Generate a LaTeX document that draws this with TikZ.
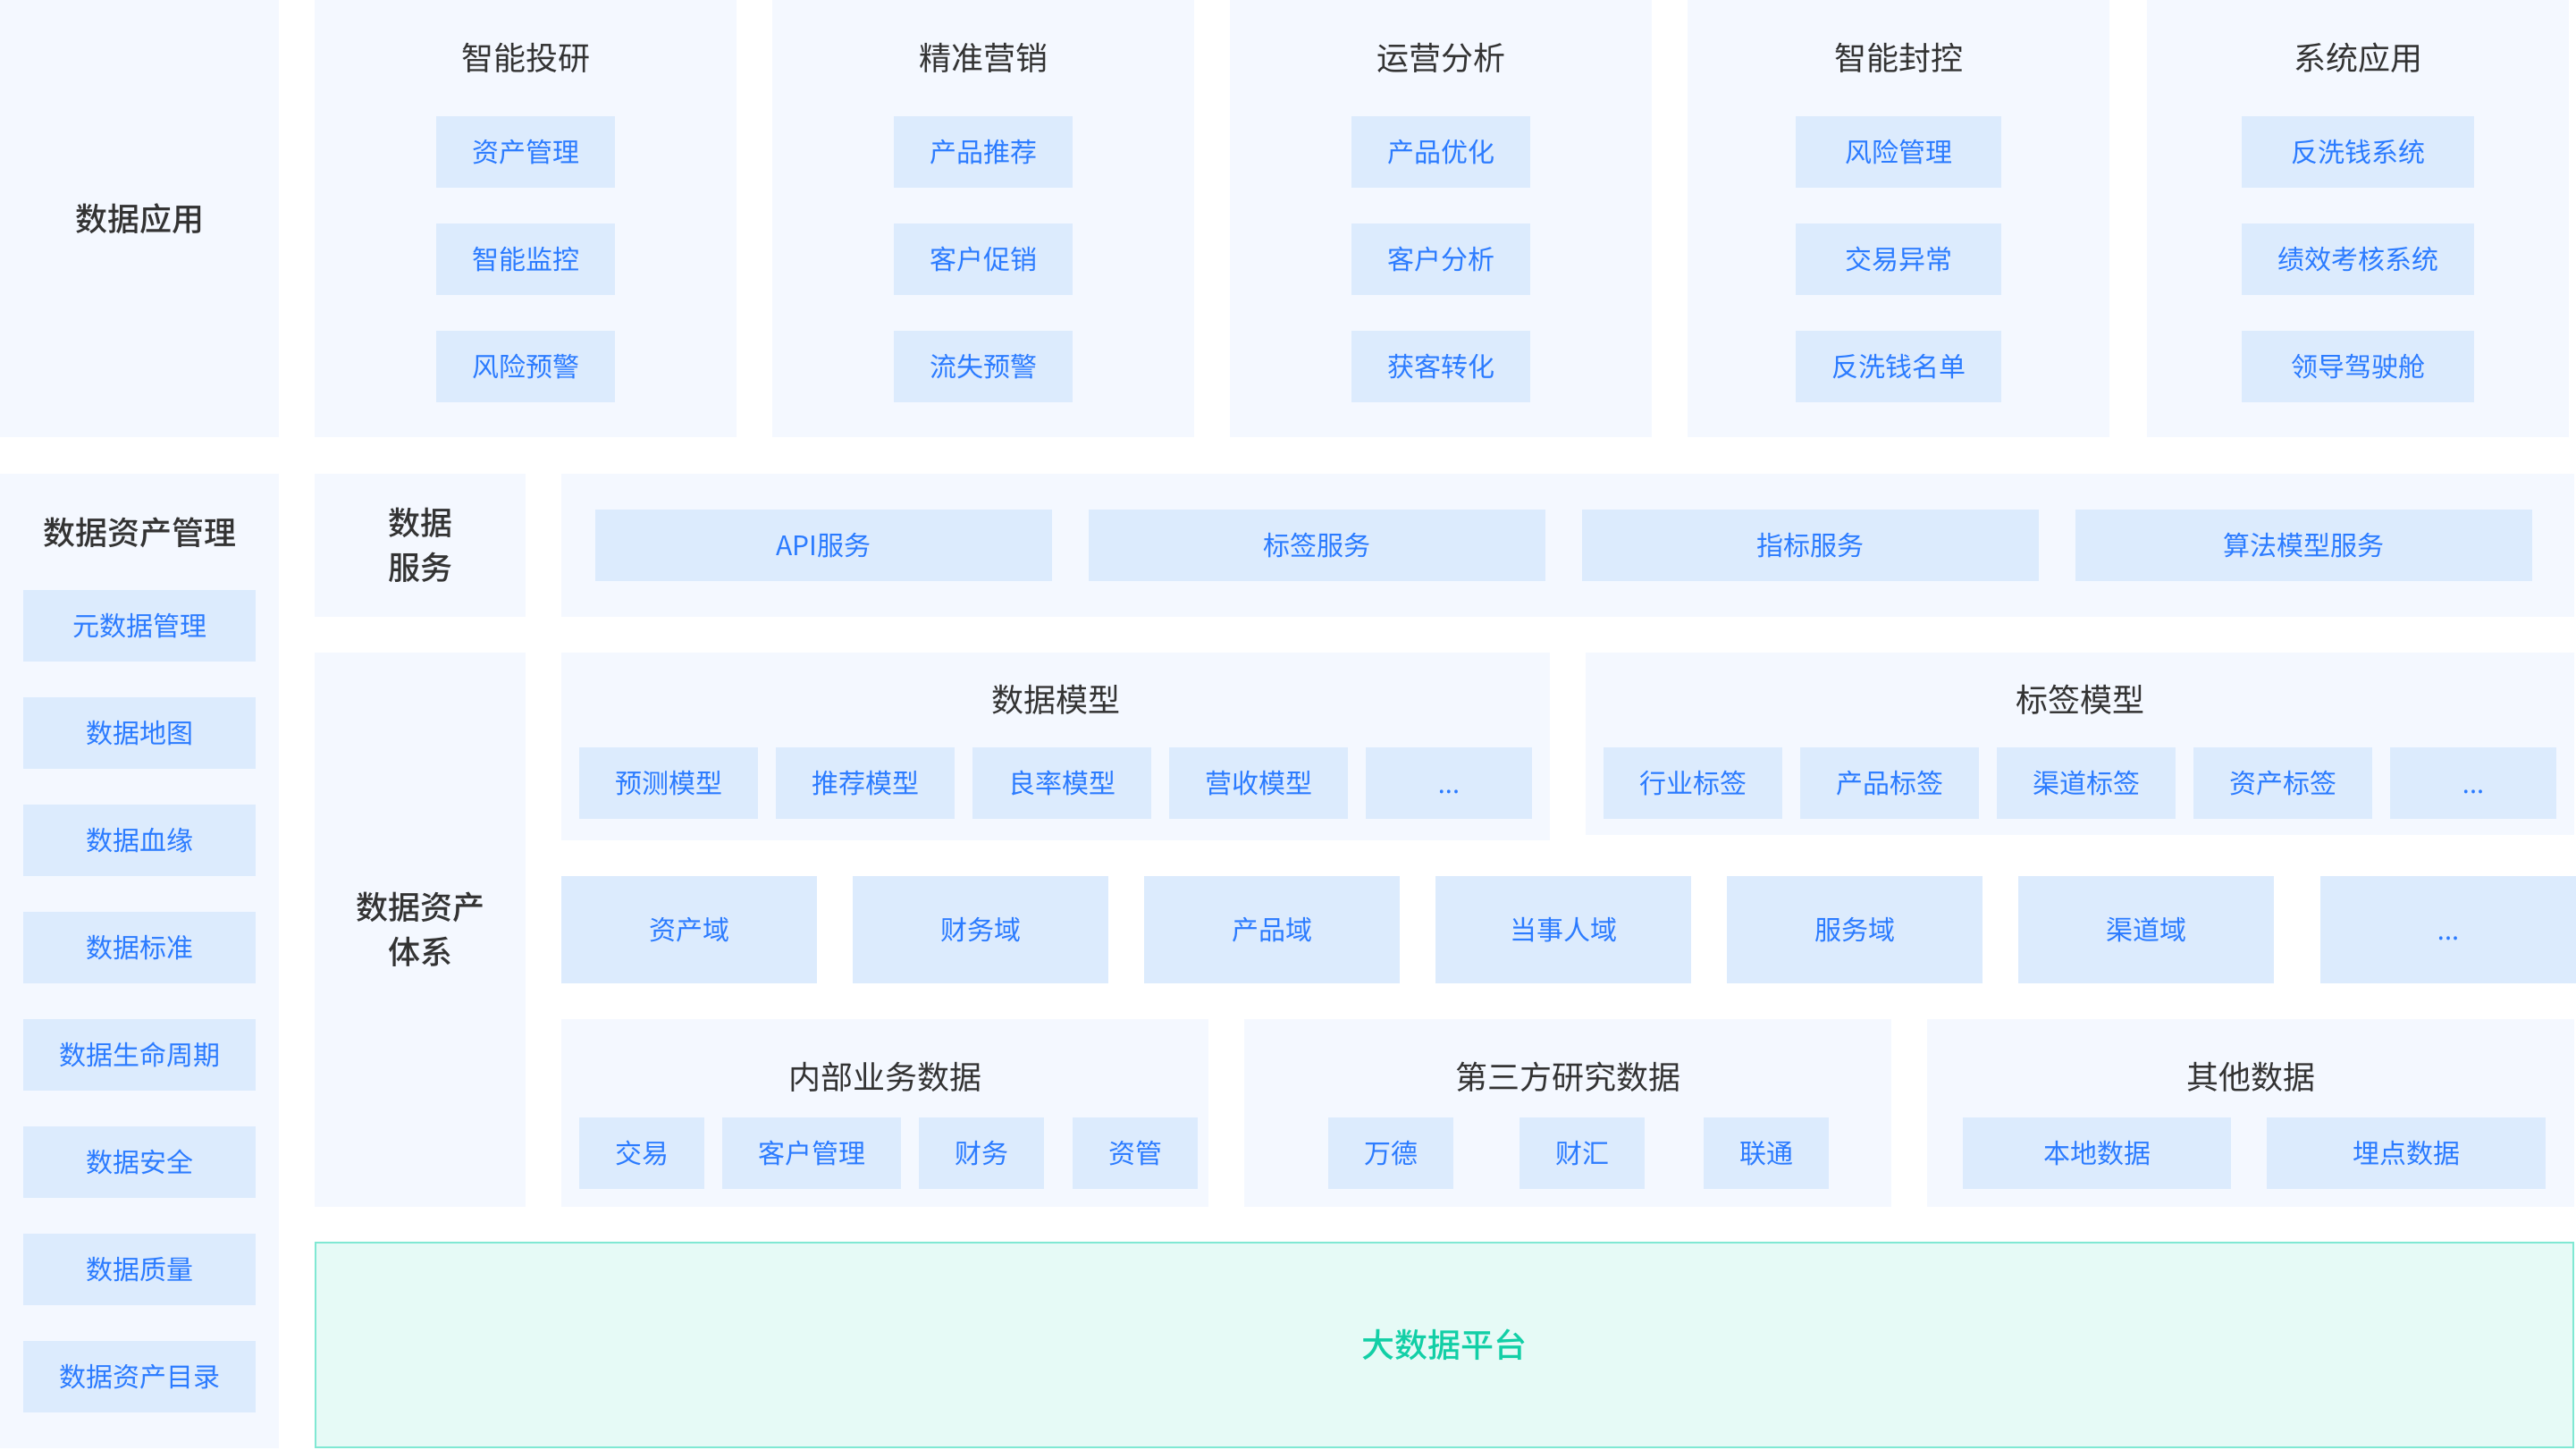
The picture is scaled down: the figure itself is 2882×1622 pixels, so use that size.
\documentclass[tikz,border=0pt]{standalone}
\usepackage{fontspec}
\setmainfont{Noto Sans CJK SC}
\IfFontExistsTF{Noto Sans CJK SC Medium}
    {\newfontfamily\medfont{Noto Sans CJK SC Medium}}
    {\newfontfamily\medfont{Noto Sans CJK SC}[FakeBold=1.2]}
\newfontfamily\dotfont{Noto Sans}
\usetikzlibrary{positioning}

\definecolor{panelbg}{HTML}{F4F8FF}
\definecolor{cellbg}{HTML}{DCEBFD}
\definecolor{celltext}{HTML}{2B7BFF}
\definecolor{headtext}{HTML}{333333}
\definecolor{baseline}{HTML}{80E8D3}
\definecolor{basebg}{HTML}{E6FAF6}
\definecolor{basetext}{HTML}{12CFA6}

% style, name, x1, y1, x2, y2, text (pixel coordinates)
\newcommand{\blk}[7]{\node[#1, minimum width={((#5)-(#3))*0.5pt}, minimum height={((#6)-(#4))*0.5pt}] (#2) at ({((#3)+(#5))/2},{((#4)+(#6))/2}) {#7};}
\newcommand{\more}{\vphantom{数}{\dotfont ...}}

\begin{document}
\begin{tikzpicture}[x=0.5pt,y=-0.5pt,
        panel/.style={fill=panelbg, inner sep=0pt, outer sep=0pt},
        cell/.style={fill=cellbg, text=celltext, font=\fontsize{15}{18}\selectfont, inner sep=0pt, outer sep=0pt},
        head/.style={text=headtext, font=\fontsize{18}{25}\selectfont},
        side/.style={text=headtext, font=\medfont\fontsize{18}{25}\selectfont, align=center},
        base/.style={fill=basebg, draw=baseline, line width=1pt, text=basetext, font=\medfont\fontsize{18.5}{25}\selectfont, inner sep=0pt}]
    \useasboundingbox (0,0) rectangle (2882,1622);

    % data applications
    \blk{panel}{app}{0}{0}{312}{489}{}
    \node[side] (app-t) at (156,245) {数据应用};
    \foreach \cx/\hw/\ttl/\a/\b/\c [count=\i] in {
        588/100/智能投研/资产管理/智能监控/风险预警,
        1100/100/精准营销/产品推荐/客户促销/流失预警,
        1612/100/运营分析/产品优化/客户分析/获客转化,
        2124/115/智能封控/风险管理/交易异常/反洗钱名单,
        2638/130/系统应用/反洗钱系统/绩效考核系统/领导驾驶舱}{
        \blk{panel}{app\i}{\cx-236}{0}{\cx+236}{489}{}
        \node[head] (app\i-t) at (\cx,65) {\ttl};
        \foreach \t [count=\j] in {\a,\b,\c}{
            \blk{cell}{app\i-\j}{\cx-\hw}{10+120*\j}{\cx+\hw}{90+120*\j}{\t}
        }
    }

    % asset management column
    \blk{panel}{mgmt}{0}{530}{312}{1620}{}
    \node[side] (mgmt-t) at (156,596) {数据资产管理};
    \foreach \t [count=\i from 0] in {元数据管理,数据地图,数据血缘,数据标准,数据生命周期,数据安全,数据质量,数据资产目录}{
        \blk{cell}{mgmt\i}{26}{660+120*\i}{286}{740+120*\i}{\t}
    }

    % data services
    \blk{panel}{svc-l}{352}{530}{588}{690}{}
    \node[side] (svc-t) at (470,610) {数据\\服务};
    \blk{panel}{svc}{628}{530}{2880}{690}{}
    \foreach \t [count=\i from 0] in {API服务,标签服务,指标服务,算法模型服务}{
        \blk{cell}{svc\i}{666+552*\i}{570}{1177+552*\i}{650}{\t}
    }

    % data asset system
    \blk{panel}{sys-l}{352}{730}{588}{1350}{}
    \node[side] (sys-t) at (470,1040) {数据资产\\体系};

    \blk{panel}{dm}{628}{730}{1734}{940}{}
    \node[head] (dm-t) at (1181,783) {数据模型};
    \foreach \t [count=\i from 0] in {预测模型,推荐模型,良率模型,营收模型}{
        \blk{cell}{dm\i}{648+220*\i}{836}{848+220*\i}{916}{\t}
    }
    \blk{cell}{dm4}{1528}{836}{1714}{916}{\more}

    \blk{panel}{tm}{1774}{730}{2880}{934}{}
    \node[head] (tm-t) at (2327,783) {标签模型};
    \foreach \t [count=\i from 0] in {行业标签,产品标签,渠道标签,资产标签}{
        \blk{cell}{tm\i}{1794+220*\i}{836}{1994+220*\i}{916}{\t}
    }
    \blk{cell}{tm4}{2674}{836}{2860}{916}{\more}

    \foreach \t [count=\i from 0] in {资产域,财务域,产品域,当事人域,服务域,渠道域}{
        \blk{cell}{dom\i}{628+326*\i}{980}{914+326*\i}{1100}{\t}
    }
    \blk{cell}{dom6}{2596}{980}{2882}{1100}{\more}

    % data sources
    \blk{panel}{src1}{628}{1140}{1352}{1350}{}
    \node[head] (src1-t) at (990,1205) {内部业务数据};
    \foreach \xa/\xb/\t [count=\i] in {648/788/交易,808/1008/客户管理,1028/1168/财务,1200/1340/资管}{
        \blk{cell}{src1-\i}{\xa}{1250}{\xb}{1330}{\t}
    }

    \blk{panel}{src2}{1392}{1140}{2116}{1350}{}
    \node[head] (src2-t) at (1754,1205) {第三方研究数据};
    \foreach \xa/\xb/\t [count=\i] in {1486/1626/万德,1700/1840/财汇,1906/2046/联通}{
        \blk{cell}{src2-\i}{\xa}{1250}{\xb}{1330}{\t}
    }

    \blk{panel}{src3}{2156}{1140}{2880}{1350}{}
    \node[head] (src3-t) at (2518,1205) {其他数据};
    \foreach \xa/\xb/\t [count=\i] in {2196/2496/本地数据,2536/2848/埋点数据}{
        \blk{cell}{src3-\i}{\xa}{1250}{\xb}{1330}{\t}
    }

    % platform
    \blk{base}{bdp}{353}{1390}{2879}{1619}{大数据平台}
\end{tikzpicture}
\end{document}
